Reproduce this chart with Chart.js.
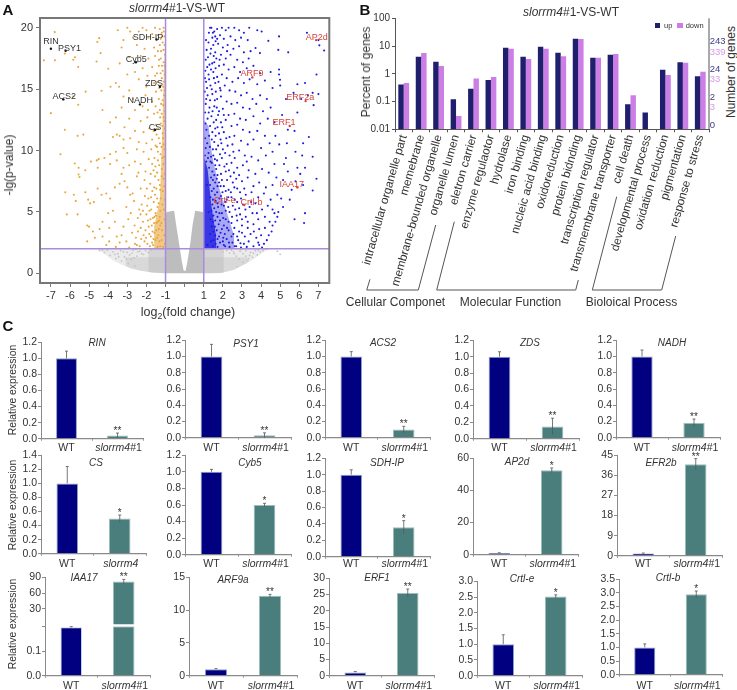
<!DOCTYPE html>
<html>
<head>
<meta charset="utf-8">
<title>slorrm4#1-VS-WT</title>
<script src="https://cdn.jsdelivr.net/npm/chart.js@4"></script>
<style>
  html, body { margin: 0; padding: 0; background: #fff; }
  #page { position: relative; width: 737px; height: 690px; overflow: hidden; font-family: "Liberation Sans", Arial, sans-serif; color: #333; }
  #page canvas { position: absolute; }
  .txt { position: absolute; white-space: nowrap; line-height: 1; transform: translate(-50%, -50%); }
  sub { font-size: 0.7em; line-height: 0; }
</style>
</head>
<body>
<div id="page"></div>
<script>
// ---------- panel A, volcano plot ----------
const volcanoTicksX = [-7, -6, -5, -4, -3, -2, -1, 0, 1, 2, 3, 4, 5, 6, 7];
const volcanoTicksY = [0, 5, 10, 15, 20];

const downPoints = [
  [-6.8,19.65],[-7.37,17.35],[-6.79,17.35],[-5.83,17.4],[-5.57,16.8],[-6.27,17.9],[-5.74,17.6],[-4.47,19.16],[-4.57,18.85],[-4.4,17.94],
  [-4.61,17.26],[-4,16.67],[-3.6,15.5],[-3.88,15.2],[-3.43,15.2],[-4.35,14.87],[-5.18,14.8],[-5.83,14.4],[-5.57,13.73],[-7,13.05],
  [-6.27,11.7],[-5.6,11.2],[-5.3,11.3],[-4.3,13.3],[-3.9,12.3],[-3.5,19.8],[-3,20],[-2.85,19.7],[-2.7,19.2],[-3.2,19],[-2.4,19.7],
  [-2.2,20],[-2,19.8],[-1.9,19.2],[-1.7,19.5],[-1.55,20],[-1.4,19.4],[-1.3,19.9],[-1.2,19.6],[-1.1,20],[-1.05,19.3],[-1.15,18.8],
  [-1.3,18.6],[-1.6,18.4],[-2.1,18.3],[-2.5,18.6],[-3.3,18.4],[-1.1,18.2],[-1.4,18.1],[-1.05,18.6],[-2.9,17.6],[-3.4,17.1],[-2.3,17.7],
  [-1.9,17.5],[-1.55,17.7],[-1.25,17.5],[-1.1,17.2],[-1.35,16.9],[-1.7,16.8],[-2.2,16.7],[-2.6,16.4],[-3,16.2],[-1.15,16.5],[-1.05,16.9],
  [-1.45,16.3],[-1.95,16.1],[-2.4,15.8],[-1.2,15.9],[-1.08,15.6],[-1.6,15.5],[-2,15.2],[-2.9,14.9],[-3.2,14.4],[-2.7,14.2],[-2.05,14.5],
  [-1.5,14.8],[-1.22,14.9],[-1.08,14.5],[-1.35,14.2],[-1.7,14],[-2.2,13.6],[-2.6,13.3],[-3.3,13.5],[-3.6,12.7],[-1.12,13.7],[-1.3,13.3],
  [-1.6,13],[-1.95,12.7],[-2.3,12.4],[-2.9,12.6],[-3.15,11.9],[-1.1,12.7],[-1.25,12.2],[-1.5,12.1],[-1.85,11.8],[-2.15,11.5],[-2.6,11.6],
  [-3.55,11.3],[-3.75,11.1],[-3.4,11.2],[-3.2,10.9],[-2.85,11],[-2.4,10.7],[-1.15,11.4],[-1.35,11],[-1.7,10.9],[-2,10.6],[-1.1,10.5],
  [-6.5,9.7],[-5.75,8.95],[-5.55,8.6],[-5.2,8.4],[-5.55,8.05],[-5.5,7.85],[-4.9,9.1],[-4.6,9.2],[-4.5,9.3],[-4.2,9.4],[-3.9,9.7],
  [-3.6,9.9],[-3.2,10.2],[-3,9.8],[-2.5,10.1],[-2.15,9.9],[-1.75,10.1],[-1.4,9.9],[-3.2,8.6],[-3.9,8.9],[-3.55,9.2],[-4.55,8.6],
  [-3.3,8.1],[-2.9,8.8],[-2.6,9.1],[-2.3,8.9],[-2.05,8.3],[-1.7,8.9],[-1.4,9.2],[-1.2,8.5],[-1.08,9.5],[-6.25,6.6],[-5.8,6.4],[-5.7,5.9],
  [-6.17,4.8],[-5.6,4.8],[-5.2,6.6],[-5.05,6],[-4.95,5.7],[-4.75,5.8],[-4.55,6.9],[-4.35,6.4],[-4.1,6.5],[-3.9,6.1],[-3.65,7],[-3.4,7.3],
  [-3.15,7.5],[-3,7],[-2.85,6.4],[-2.5,7.9],[-2.3,6.9],[-2.1,7.6],[-1.8,7.3],[-1.55,7.9],[-1.3,7.2],[-1.1,7.7],[-5.1,3.9],[-5,3.8],
  [-4.8,3.4],[-4.45,3.6],[-4.3,4.2],[-4.3,3],[-4,4.9],[-3.95,3.7],[-3.75,5.1],[-3.65,4.2],[-3.55,3],[-3.4,2.5],[-3.2,3.8],[-3.05,5.4],
  [-2.95,4.4],[-2.75,3.3],[-2.65,5.9],[-2.6,2.4],[-2.45,4.5],[-2.3,3.7],[-2.25,5.6],[-2.1,2.6],[-2,4.8],[-1.9,6.1],[-1.85,3.2],[-1.75,5.2],
  [-1.65,2.3],[-1.6,4.1],[-1.55,6.4],[-1.45,2.9],[-1.42,5.4],[-1.35,3.6],[-1.3,4.6],[-1.28,2.2],[-1.25,6.1],[-1.2,2.7],[-1.82,2.2],[-2.55,2.9],
  [-3.95,2.6],[-2.05,3.5],[-1.72,3.9],[-1.95,2.4],[-2.35,2.2],[-3.05,2.6],[-1.5,4.7],[-1.62,5.8],[-1.98,6.9],[-2.72,6.5],[-2.38,5.2],[-2.82,4.9],
  [-4.7,2.9],[-5.1,2.6],[-4.1,2.3],[-3.6,2.15],[-3.3,3.1],[-2.9,2.1],[-1.78,8.1],[-1.88,9.3],[-2.42,8.2],[-1.52,10.4],[-1.62,11.6],[-1.92,13.3],
  [-1.03,2.4],[-1.07,3.1],[-1.12,2.15],[-1.18,3.5],[-1.22,4.1],[-1.05,4.4],[-1.09,5.2],[-1.16,5.6],[-1.03,6],[-1.14,6.7],[-1.06,7.1],[-1.2,7.9],[-1.04,8.1],
  [-1.11,8.9],[-1.18,9.4],[-1.05,10.1],[-1.21,10.3],[-1.13,11],[-1.03,11.8],[-1.17,12],[-1.06,12.4],[-1.2,13],[-1.04,13.2],[-1.15,14.1],[-1.03,14.9],[-1.27,15.3],
  [-1.12,15.2],[-1.04,16.2],[-1.19,16.9],[-1.32,2.6],[-1.38,3.1],[-1.42,2.15],[-1.48,3.5],[-1.53,2.7],[-1.58,3.3],[-1.63,2.8],[-1.7,2.5],[-1.77,3],[-1.28,3.9],
  [-1.33,4.3],[-1.41,4.2],[-1.47,4.1],[-1.52,4.9],[-1.58,4.6],[-1.66,4.5],[-1.68,3.4],[-1.79,4.4],[-1.88,3.8],[-1.92,4.3],[-2.02,2.9],[-2.15,3.1],[-2.18,4.2],[-2.27,2.8],
  [-2.44,3.4],[-2.5,2.3],[-2.62,3.9],[-1.27,5.1],[-1.36,5.7],[-1.44,6.1],[-1.48,6.9],[-1.59,7],[-1.69,6.7],[-1.76,6.2],[-1.84,5.1],[-1.96,5.5],[-2.08,6.3],[-2.18,5.1],
  [-2.31,4.8],[-1.28,6.8],[-1.37,7.6],[-1.44,8.2],[-1.53,8.7],[-1.63,8.4],[-1.33,8.8],[-1.26,9.7],[-1.45,10.3],[-1.29,10.6],[-1.58,9.4],[-1.38,11.8],[-1.47,11.3],[-1.28,12.7],
  [-1.42,13.1],[-1.23,13.8],[-1.52,13.6],[-1.33,15.1],[-1.42,15.6],[-1.26,16.3],[-1.55,16.1],[-1.23,18.1],[-1.34,17.4],[-1.17,19.3],[-1.09,19.7],[-1.25,19.1],[-1.03,17.8]
];

const upPoints = [
  [7,19],[7.3,18.15],[7.05,18.57],[6.4,19.6],[4.94,19.3],[5.42,18],[4.9,18.2],[4.38,18.94],[4.03,19.7],[3.8,19.8],[3.38,20],[3.71,18.35],[3.94,17.94],
  [4.94,16.6],[4.94,16.2],[4.99,15.77],[4.5,16.4],[6.9,16.2],[6.7,14.7],[7,14.6],[6.45,14.5],[6.3,15.5],[5.9,15.4],[6.1,14.2],[5.7,14.7],[5,15.3],
  [4.6,15.1],[5.3,14.2],[5.9,13.1],[6.75,13.7],[5.1,12.9],[5.75,11.6],[6.5,11.1],[6.2,10.6],[5.4,11.7],[4.7,12.3],[4.75,11.2],[4.95,10.5],[5.35,10.6],
  [5.8,9.9],[5.3,9.4],[6.15,9.6],[6.7,9.5],[6.9,7.7],[6.7,6.75],[6.3,8.6],[5.9,8.6],[6.05,8.1],[6.2,7.2],[5.8,7.5],[5.2,8.9],[5.4,8.3],[5.15,7.6],
  [5.6,6.8],[5.05,6.1],[5.5,6],[5.15,5.4],[6.3,4.9],[6.25,4.1],[5.75,4.4],[4.9,5],[4.85,4.6],[4.75,4.2],[4.6,3.9],[4.55,3.4],[4.4,3.1],[4.3,2.7],
  [4.15,2.4],[4.05,2.1],[3.9,2.3],[4.7,4.9],[1.4,20],[1.55,19.7],[1.7,19.9],[1.95,20],[2.15,19.8],[2.3,20],[2.6,20],[2.85,19.8],[3.1,19.6],[1.45,19.2],
  [1.6,19.3],[1.85,19.4],[2.05,19.1],[2.4,19.3],[2.65,19],[2.95,19.2],[3.3,19],[1.25,18.8],[1.5,18.6],[1.75,18.7],[2,18.4],[2.25,18.6],[2.55,18.3],[2.85,18.5],
  [3.1,18],[3.45,18.1],[1.15,18.2],[1.35,17.9],[1.6,18],[1.9,17.8],[2.15,17.5],[2.4,17.8],[2.75,17.4],[3.05,17.2],[3.35,17.5],[1.1,17.4],[1.3,17],[1.55,17.2],
  [1.8,16.9],[2.05,17],[2.3,16.6],[2.6,16.8],[2.9,16.4],[3.25,16.7],[3.6,16.9],[3.95,16.3],[1.08,16.5],[1.25,16.2],[1.5,16.4],[1.7,16],[1.95,16.2],[2.2,15.9],
  [2.5,15.6],[2.8,15.9],[3.1,15.5],[3.4,15.8],[3.8,15.4],[4.2,15.7],[1.12,15.6],[1.35,15.3],[1.6,15.5],[1.85,15.1],[2.1,15.3],[2.35,14.9],[2.65,14.8],[2.95,14.5],
  [3.25,14.7],[3.55,14.2],[3.95,14.5],[4.3,14.2],[1.05,14.8],[1.2,14.5],[1.45,14.6],[1.7,14.2],[1.9,14.4],[2.2,14],[2.45,13.8],[2.75,13.9],[3.05,13.5],[3.4,13.4],
  [3.75,13.8],[4.1,13.2],[4.5,13.5],[1.1,13.8],[1.3,13.5],[1.55,13.6],[1.8,13.2],[2,13.4],[2.3,12.9],[2.6,13],[2.9,12.6],[3.2,12.5],[3.6,12.8],[3.95,12.2],
  [4.35,12.6],[1.4,12.8],[1.65,12.5],[1.9,12.3],[2.15,12.5],[2.45,12],[2.75,12.1],[3.05,11.7],[3.4,11.5],[3.8,11.6],[4.2,11.2],[1.6,11.8],[1.8,11.4],[2.05,11.5],
  [2.35,11.1],[2.6,11.2],[2.95,10.8],[3.3,10.5],[3.6,10.9],[4,10.2],[4.45,10.6],[1.55,10.7],[1.75,10.4],[2,10.1],[2.25,10.4],[2.55,9.9],[2.85,10],[3.15,9.6],
  [3.5,9.5],[3.85,9.2],[4.25,9.6],[4.6,9.9],[4.7,8.9],[1.5,9.6],[1.7,9.2],[1.95,9.4],[2.2,8.9],[2.45,9],[2.75,8.6],[3.05,8.8],[3.35,8.4],[3.7,8.1],[4.05,8.5],
  [4.4,8.2],[4.8,7.8],[1.65,8.5],[1.9,8.1],[2.15,8.3],[2.4,7.9],[2.7,7.7],[3,7.5],[3.3,7.8],[3.6,7.1],[3.9,7.4],[4.25,7],[4.6,7.2],[1.8,7.4],[2.05,7.1],[2.3,6.8],
  [2.6,7],[2.9,6.6],[3.2,6.4],[3.5,6.6],[3.85,6.2],[4.15,6.5],[4.5,6],[4.85,6.4],[1.9,6.3],[2.2,6],[2.45,6.2],[2.75,5.8],[3.05,5.6],[3.4,5.4],[3.7,5.7],[4.05,5.2],
  [4.35,5.5],[4.6,5.2],[2.05,5.5],[2.35,5],[2.65,5.2],[2.9,4.8],[3.2,4.6],[3.55,4.9],[3.85,4.4],[4.2,4.6],[4.45,4.2],[2.15,4.4],[2.45,4.1],[2.75,4.3],[3,3.9],[3.3,3.7],
  [3.6,4],[3.9,3.6],[4.2,3.7],[2.3,3.5],[2.55,3.2],[2.85,3.4],[3.15,3],[3.45,3.2],[3.75,2.9],[4,3.1],[2.2,2.8],[2.5,2.5],[2.8,2.7],[3.1,2.4],[3.35,2.6],[3.6,2.2],
  [3.85,2.5],[2.05,2.3],[2.35,2.15],[2.7,2.2],[2.95,2.1],[3.25,2.15],[1.8,3],[1.95,3.6],[2.1,3.2],[1.85,4.3],[1.95,4.9],[1.75,5.4],[1.7,6.6],[1.6,7.4],[1.45,8.3],[2,2.6],
  [1.27,19.6],[1.33,20],[1.48,19.6],[1.62,18.9],[1.12,19],[1.38,18.3],[1.7,19.1],[1.52,17.7],[1.22,17.6],[1.44,17.1],[1.66,17.5],[1.18,16.8],[1.38,16.6],[1.62,16.7],
  [1.83,17.4],[2.22,18.1],[1.06,15.9],[1.28,15.8],[1.53,15.9],[1.77,15.6],[1.42,15],[1.17,15.1],[1.63,14.8],[1.88,14.9],[1.33,14.1],[1.58,14.1],[1.13,14.2],[1.26,13.1],[1.46,13.2],
  [1.68,13.5],[1.07,13.1],[1.75,12.9],[1.2,12.6],[1.52,12.3],[2.05,12.9],[1.09,12.2],[1.33,12],[1.72,11.9],[1.97,11.9],[1.45,11.5],[1.14,11.7],[1.62,11.2],[1.28,11.2],[1.88,10.9],
  [2.18,11],[1.07,11],[1.42,10.9],[1.18,10.6],[1.65,10.1],[1.32,10.3],[1.92,10.6],[2.12,9.8],[1.1,10.2],[1.48,10.1],[1.25,9.8],[1.85,9.7],[1.58,9.3],[1.38,9.5],[2.35,9.6],
  [2.08,8.7],[2.62,9.4],[1.82,8.8],[1.6,8.8],[1.42,9],[2.32,8.4],[1.72,8],[1.95,7.6],[1.55,8],[2.58,8.2],[2.22,7.6],[2.85,8],[1.68,7.7],[1.48,7.6],[2.52,7.4],[1.88,7.1],
  [2.15,6.7],[2.42,6.6],[1.52,6.9],[2.75,6.9],[1.72,7.1],[1.58,6.4],[1.98,6.6],[2.28,6.2],[2.62,6],[1.82,6.1],[1.62,5.9],[2.12,5.8],[1.48,6],[2.95,6.1],[1.72,5.7],[2.52,5.5],
  [1.93,5.6],[1.55,5.3],[2.28,5.4],[2.85,5.3],[1.65,5],[2.15,5.1],[1.82,4.9],[3.18,5.2],[1.5,4.7],[2.48,4.6],[1.72,4.6],[2.02,4.5],[1.6,4.3],[2.72,4.7],[2.3,4.2],[1.48,4.2],
  [1.78,4],[3,4.4],[2.05,3.9],[1.58,3.8],[2.6,3.7],[1.68,3.5],[2.22,3.7],[1.5,3.4],[1.88,3.3],[2.45,3],[1.6,3.1],[2.75,3],[2.02,2.9],[1.72,2.8],[1.5,2.7],[3,3.3],[2.32,2.5],
  [1.62,2.4],[1.85,2.5],[2.12,2.2],[1.48,2.2],[2.62,2.2],[1.72,2.15],[2.92,2.45],[1.38,2.6],[1.33,3.2],[1.42,3.8],[1.36,4.4],[1.4,5.1],[1.45,5.6],[1.35,6.2],[1.42,6.7],[1.33,7.2],
  [1.38,7.8],[1.28,8.6],[1.35,9.1],[1.22,9.4],[1.13,9.1],[1.06,9.6],[1.19,2.3],[1.25,5],[1.16,7.2],[3.62,3.4],[3.3,4.2],[3.78,4.9],[3.48,5.8],[3.12,6.9],[2.5,10.5],[3.25,9.1]
];

const grayPoints = [
  [-4.45,1.85],[-4.2,1.7],[-4.05,1.9],[-3.9,1.45],[-3.75,1.75],[-3.6,1.2],[-3.5,1.6],[-3.35,1.85],[-3.3,1],[-3.15,1.35],[-3,1.7],[-2.95,0.8],[-2.8,1.15],
  [-2.7,1.9],[-2.6,0.6],[-2.5,1.4],[3.05,0.9],[3.2,1.4],[3.3,1.05],[3.45,1.7],[3.55,1.3],[3.7,1.85],[3.8,1.5],[3.95,1.75],[4.1,1.85],[4.3,1.95],[4.85,1.8],[5,1.55],
  [2.9,1.8],[2.75,0.55],[2.6,1.6],[-2.35,1.8],[-2.15,1.55],[2.45,1.9],[-3.05,1.15],[-2.88,1.5],[-2.65,1.25],[-2.45,1.75],[-2.25,1.6],[-2.05,1.85],[-1.9,1.7],[-3.45,1.35],
  [-3.65,1.55],[-4.3,1.9],[-3.2,1.75],[-2.75,1.65],[-2.55,1.95],[-1.75,1.9],[2.2,1.85],[2.35,1.65],[2.7,1.4],[2.85,1.15],[3.05,1.6],[3.2,1.85],[3.4,1.45],[3.6,1.65],
  [2,1.75],[1.85,1.95],[2.55,1.75],[2.95,1.95],[3.85,1.9],[3.35,1.2]
];

// outlines of the solid grey and the densest parts of the clouds
const wingX = [-1, -0.95, -0.55, -0.45, -0.3, -0.15, -0.05, 0.05, 0.15, 0.3, 0.42, 0.55, 0.95, 1];
const wingY = [4.6, 5, 5.1, 4, 2.5, 1, 0.2, 0.2, 1, 2.5, 4, 5.1, 5, 4.6];
const lowLeftX = [-4.6, -4.2, -3.8, -3.3, -2.8, -2.3, -1.7, -1];
const lowLeftY = [2, 1.6, 1.1, 0.7, 0.4, 0.2, 0.06, 0];
const lowRightX = [1, 1.9, 2.55, 3.4, 4.1, 4.4];
const lowRightY = [0, 0.02, 0.27, 0.95, 1.7, 2];
const midLeftX = [-3.1, -2.8, -2.3, -1.7, -1];
const midLeftY = [0.62, 0.4, 0.2, 0.06, 0];
const midRightX = [1, 1.9, 2.55, 3.1, 3.3];
const midRightY = [0, 0.02, 0.27, 0.7, 0.85];
const coreLeftX = [-1.9, -1.7, -1];
const coreLeftY = [0.12, 0.06, 0];
const coreRightX = [1, 1.7, 2.05];
const coreRightY = [0, 0.02, 0.06];
const denseDownX = [-1.6, -1.3, -1.18, -1.08, -1];
const denseDownY = [3.8, 6, 11, 17, 19];
const denseUpX = [1, 1.25, 1.45, 1.8, 2.2, 2.6];
const denseUpY = [12.5, 12, 9.5, 7, 5, 3];
const solidUpX = [1, 1.2, 1.4, 1.65];
const solidUpY = [9.5, 8.5, 5.5, 3];

const downGenes = ['RIN', 'PSY1', 'ACS2', 'SDH-IP', 'Cyb5', 'ZDS', 'NADH', 'CS'];
const downGeneX = [-7, -6.23, -6.35, -1.47, -2.55, -1.29, -2.34, -1.55];
const downGeneY = [18.3, 18.13, 14.17, 19.05, 17.2, 15.2, 13.76, 11.67];
const downLabelX = [-7, -6.03, -6.3, -1.92, -2.53, -1.6, -2.32, -1.55];
const downLabelY = [18.85, 18.3, 14.4, 19.25, 17.45, 15.45, 14.05, 11.9];
const upGenes = ['AP2d', 'ARF9', 'ERF2a', 'ERF1', 'IAA17', 'Crtl-e', 'Crtl-b'];
const upGeneX = [6.88, 3.54, 6.33, 5.5, 5.9, 1.6, 3.12];
const upGeneY = [19, 15.96, 14.03, 12, 7, 5.8, 5.56];
const upLabelX = [6.91, 3.52, 6.05, 5.2, 5.6, 2.1, 3.5];
const upLabelY = [19.25, 16.3, 14.3, 12.25, 7.25, 5.95, 5.8];

// ---------- panel B, GO classification ----------
const goTerms = ['intracellular organelle part', 'memebrane', 'membrane-bounded organelle', 'organelle lumen', 'eletron carrier',
  'enzyme regulaotor', 'hydrolase', 'iron binding', 'nucleic acid binding', 'oxidoreduction', 'protein bidnding', 'transcription regulator',
  'transmembrane transporter', 'cell death', 'developmental process', 'oxidation reduction', 'pigmentation', 'response to stress'];
const goUp = [0.41, 4.1, 2.7, 0.12, 0.29, 0.6, 8.7, 4.1, 9.4, 5.7, 18.4, 3.8, 4.9, 0.08, 0.04, 1.4, 2.6, 0.82];
const goDown = [0.47, 5.6, 1.9, 0.03, 0.68, 0.76, 8, 3.4, 8, 4.3, 18, 3.8, 5.2, 0.17, null, 0.9, 2.5, 1.18];
const goTicksY = [0.01, 0.1, 1, 10, 100];
const geneCountLabels = ['243', '339', '24', '33', '2', '3', '0'];
const geneCountTop = [41, 52, 69, 79, 97, 107, 125];
const geneCountColors = ['#3d3d86', '#d79be8', '#3d3d86', '#d79be8', '#3d3d86', '#d79be8', '#3d3d86'];

// ---------- panel C, qPCR ----------
const qGenes = ['RIN', 'PSY1', 'ACS2', 'ZDS', 'NADH', 'CS', 'Cyb5', 'SDH-IP', 'AP2d', 'EFR2b', 'IAA17', 'ARF9a', 'ERF1', 'Crtl-e', 'Crtl-b'];
const wtMean = [1, 1, 1, 1, 1, 1, 1, 1, 1, 1, 0.2, 1, 1, 1, 1];
const wtErr = [0.09, 0.15, 0.06, 0.06, 0.08, 0.24, 0.03, 0.06, 0.2, 0.2, 0.003, 0.08, 0.3, 0.3, 0.13];
const mutMean = [0.04, 0.03, 0.1, 0.15, 0.18, 0.5, 0.6, 0.36, 52.5, 41, 82, 12.2, 25.5, 2.52, 2.95];
const mutErr = [0.03, 0.03, 0.04, 0.1, 0.05, 0.05, 0.02, 0.08, 1.5, 2.5, 4, 0.2, 1.2, 0.05, 0.12];
const mutStars = ['**', '**', '**', '**', '**', '*', '*', '*', '*', '**', '**', '**', '**', '*', '*'];
const mutLabels = ['#1', '#1', '#1', '#1', '#1', '', '#1', '#1', '#1', '#1', '#1', '#1', '#1', '#1', '#1'];
const qTicks = [
  [0, 0.2, 0.4, 0.6, 0.8, 1, 1.2], [0, 0.2, 0.4, 0.6, 0.8, 1, 1.2], [0, 0.2, 0.4, 0.6, 0.8, 1, 1.2], [0, 0.2, 0.4, 0.6, 0.8, 1, 1.2], [0, 0.2, 0.4, 0.6, 0.8, 1, 1.2],
  [0, 0.2, 0.4, 0.6, 0.8, 1, 1.2, 1.4], [0, 0.2, 0.4, 0.6, 0.8, 1, 1.2], [0, 0.2, 0.4, 0.6, 0.8, 1, 1.2], [0, 20, 40, 60], [0, 9, 18, 27, 36, 45],
  [], [0, 5, 10, 15], [0, 5, 10, 15, 20, 25, 30], [0, 0.5, 1, 1.5, 2, 2.5, 3], [0, 0.5, 1, 1.5, 2, 2.5, 3, 3.5]
];
const iaaLowTicks = [0, 0.1, 0.205];
const iaaHighTicks = [30, 60, 90];

// layout of the small charts: left, right, top, bottom of the plot area
const qBoxes = [
  [41, 143, 341, 439.7], [185, 291, 339, 439.3], [325, 430, 339, 439], [473, 579, 339.3, 440], [616, 720, 339, 439],
  [41, 146, 454, 555], [185, 291, 454.3, 556], [325, 430, 456.7, 557.3], [473, 578, 456.7, 556], [617, 722, 454.3, 557.3],
  [45, 150, 576, 676.7], [189, 297, 576, 676.7], [329, 434, 577, 676.7], [477, 582, 580, 676.7], [619, 722, 577.7, 675.7]
];
const qTitleX = [97, 246, 383, 530, 672, 96, 250, 387, 517, 661, 84, 233, 377, 522, 668];
const qTitleY = [343, 344, 343, 343, 343, 463, 463, 463, 462, 463, 578, 580, 578, 579, 578];
const qLabelY = [447, 447, 447, 447, 447, 563, 563, 563, 563, 563, 685, 685, 685, 685, 685];

Chart.defaults.font.family = '"Liberation Sans", Arial, sans-serif';
Chart.defaults.color = '#333';
Chart.defaults.animation = false;
Chart.defaults.responsive = false;
Chart.defaults.plugins.legend.display = false;
Chart.defaults.plugins.tooltip.enabled = false;

const page = document.getElementById('page');

function addText(html, x, y, size, extra) {
  const d = document.createElement('div');
  d.className = 'txt';
  d.innerHTML = html;
  d.style.left = x + 'px';
  d.style.top = y + 'px';
  d.style.fontSize = size + 'px';
  if (extra) Object.assign(d.style, extra);
  page.appendChild(d);
  return d;
}

function addCanvas(left, top, width, height) {
  const c = document.createElement('canvas');
  c.width = width;
  c.height = height;
  c.style.left = left + 'px';
  c.style.top = top + 'px';
  page.appendChild(c);
  return c;
}

function toXY(xs, ys) {
  return xs.map((x, i) => ({ x: x, y: ys[i] }));
}

function cloud(data, color, radius, order) {
  return { data: data, backgroundColor: color, pointRadius: radius, borderWidth: 0, pointBorderWidth: 0, order: order };
}

function pairs(list) {
  return list.map(p => ({ x: p[0], y: p[1] }));
}

function area(xs, ys, color, target, order) {
  return { data: toXY(xs, ys), showLine: true, pointRadius: 0, borderWidth: 0, tension: 0, backgroundColor: color, fill: target, order: order };
}

function rule(xs, ys) {
  return { data: toXY(xs, ys), showLine: true, pointRadius: 0, borderColor: '#a98be0', borderWidth: 1.5, tension: 0, order: 1 };
}

// Frame around the volcano plot, gene names next to the marked points.
const volcanoExtras = {
  id: 'volcanoExtras',
  afterDraw(chart) {
    const ctx = chart.ctx, a = chart.chartArea, sx = chart.scales.x, sy = chart.scales.y;
    ctx.save();
    ctx.strokeStyle = '#777';
    ctx.lineWidth = 2;
    ctx.strokeRect(a.left, a.top, a.right - a.left, a.bottom - a.top);
    ctx.font = '9px "Liberation Sans", Arial, sans-serif';
    ctx.textAlign = 'center';
    ctx.textBaseline = 'middle';
    ctx.fillStyle = '#333';
    downGenes.forEach((g, i) => ctx.fillText(g, sx.getPixelForValue(downLabelX[i]), sy.getPixelForValue(downLabelY[i])));
    ctx.fillStyle = '#d8413c';
    upGenes.forEach((g, i) => ctx.fillText(g, sx.getPixelForValue(upLabelX[i]), sy.getPixelForValue(upLabelY[i])));
    ctx.restore();
  }
};

new Chart(addCanvas(0, 0, 340, 305), {
  type: 'scatter',
  data: {
    datasets: [
      cloud(toXY(downGeneX, downGeneY), '#111', 1.2, 0),
      cloud(toXY(upGeneX, upGeneY), '#d8413c', 1.2, 0),
      rule([-1, -1], [-0.79, 20.8]),
      rule([1, 1], [-0.79, 20.8]),
      rule([-7.57, 7.57], [2, 2]),
      cloud(pairs(upPoints), '#1c1ce0', 1.05, 2),
      cloud(pairs(downPoints), '#e8a63c', 1.05, 2),
      area(solidUpX, solidUpY, 'rgba(28,28,224,0.8)', { value: 2 }, 3),
      area(denseUpX, denseUpY, 'rgba(28,28,224,0.38)', { value: 2 }, 4),
      area(denseDownX, denseDownY, 'rgba(232,166,60,0.6)', { value: 2 }, 3),
      cloud(pairs(grayPoints), '#c4c4c4', 0.9, 5),
      area(wingX, wingY, '#bdbdbd', 'origin', 6),
      area(coreLeftX, coreLeftY, 'rgba(190,190,190,0.5)', { value: 2 }, 7),
      area(coreRightX, coreRightY, 'rgba(190,190,190,0.5)', { value: 2 }, 7),
      area(midLeftX, midLeftY, 'rgba(190,190,190,0.4)', { value: 1.3 }, 8),
      area(midRightX, midRightY, 'rgba(190,190,190,0.4)', { value: 1.3 }, 8),
      area(lowLeftX, lowLeftY, 'rgba(190,190,190,0.3)', { value: 2 }, 9),
      area(lowRightX, lowRightY, 'rgba(190,190,190,0.3)', { value: 2 }, 9)
    ]
  },
  options: {
    layout: { padding: { top: 18, right: 10.7, left: 0, bottom: 0 } },
    scales: {
      x: {
        type: 'linear', min: -7.57, max: 7.57,
        afterBuildTicks: s => { s.ticks = volcanoTicksX.map(v => ({ value: v })); },
        afterFit: s => { s.height = 22; },
        grid: { drawOnChartArea: false, tickLength: 4, color: '#777' },
        border: { color: '#777' },
        ticks: { autoSkip: false, maxRotation: 0, padding: 2, font: { size: 11 }, callback: v => (v === 0 ? '' : String(v)) }
      },
      y: {
        min: -0.79, max: 20.8,
        afterBuildTicks: s => { s.ticks = volcanoTicksY.map(v => ({ value: v })); },
        afterFit: s => { s.width = 40; },
        grid: { drawOnChartArea: false, tickLength: 4, color: '#777' },
        border: { color: '#777' },
        ticks: { padding: 3, font: { size: 11 } }
      }
    }
  },
  plugins: [volcanoExtras]
});

addText('<b>A</b>', 8, 9, 15, { color: '#111' });
addText('<i>slorrm4</i>#1-VS-WT', 177, 8, 12);
addText('-lg(p-value)', 9, 165, 12, { transform: 'translate(-50%,-50%) rotate(-90deg)' });
addText('log<sub>2</sub>(fold change)', 188, 312, 12.5);

// ---------- panel B ----------
const goFrame = {
  id: 'goFrame',
  afterDraw(chart) {
    const ctx = chart.ctx, a = chart.chartArea;
    ctx.save();
    ctx.strokeStyle = '#555';
    ctx.beginPath();
    ctx.moveTo(a.right, a.top);
    ctx.lineTo(a.right, a.bottom);
    ctx.stroke();
    ctx.restore();
  }
};

new Chart(addCanvas(350, 0, 370, 310), {
  type: 'bar',
  data: {
    labels: goTerms,
    datasets: [
      { label: 'up', data: goUp, backgroundColor: '#1f1f6e', categoryPercentage: 0.62, barPercentage: 1 },
      { label: 'down', data: goDown, backgroundColor: '#cc7ee6', categoryPercentage: 0.62, barPercentage: 1 }
    ]
  },
  options: {
    layout: { padding: { top: 18.3, right: 11, left: 0, bottom: 0 } },
    scales: {
      x: {
        afterFit: s => { s.height = 180.7; },
        grid: { drawOnChartArea: false, tickLength: 3, color: '#555' },
        border: { color: '#555' },
        ticks: { autoSkip: false, minRotation: 74, maxRotation: 74, padding: 1, font: { size: 11.7 } }
      },
      y: {
        type: 'logarithmic', min: 0.01, max: 100,
        afterBuildTicks: s => { s.ticks = goTicksY.map(v => ({ value: v })); },
        afterFit: s => { s.width = 45; },
        grid: { drawOnChartArea: false, tickLength: 3, color: '#555' },
        border: { color: '#555' },
        ticks: { padding: 2, font: { size: 10 }, callback: v => String(v) }
      }
    }
  },
  plugins: [goFrame]
});

addText('<b>B</b>', 365, 9, 15, { color: '#111' });
addText('<i>slorrm4</i>#1-VS-WT', 571, 12, 12);
addText('Percent of genes', 366, 72, 12, { transform: 'translate(-50%,-50%) rotate(-90deg)' });
addText('Number of genes', 731, 72, 12, { transform: 'translate(-50%,-50%) rotate(-90deg)' });
geneCountLabels.forEach((t, i) => {
  addText(t, 709.8, geneCountTop[i], 9.5, { transform: 'translate(0,-50%)', color: geneCountColors[i] });
});
addText('up', 664, 25.5, 7.5, { transform: 'translate(0,-50%)' });
addText('down', 685.7, 25.5, 7.5, { transform: 'translate(0,-50%)' });
[[655, '#1f1f6e'], [677.3, '#cc7ee6']].forEach(s => {
  const d = document.createElement('div');
  d.style.cssText = 'position:absolute;top:22.7px;width:5.3px;height:5.3px;left:' + s[0] + 'px;background:' + s[1];
  page.appendChild(d);
});
addText('Cellular Componet', 395.5, 302, 12);
addText('Molecular Function', 510.5, 302, 12);
addText('Bioloical Process', 631.5, 302, 12);

// brackets that tie the terms to their groups
const brackets = ['370,279.3 366.7,290 418.3,290 435.7,225', '454.3,221.7 436.7,290 575.7,290 578.3,280', '616.7,196.7 592.3,290 661.7,290 675.7,236'];
const svg = document.createElementNS('http://www.w3.org/2000/svg', 'svg');
svg.setAttribute('width', 737);
svg.setAttribute('height', 320);
svg.style.cssText = 'position:absolute;left:0;top:0';
brackets.forEach(b => {
  const p = document.createElementNS('http://www.w3.org/2000/svg', 'polyline');
  p.setAttribute('points', b);
  p.setAttribute('fill', 'none');
  p.setAttribute('stroke', '#555');
  svg.appendChild(p);
});
page.appendChild(svg);

// ---------- panel C ----------
const errorMarks = {
  id: 'errorMarks',
  afterDatasetsDraw(chart) {
    const ctx = chart.ctx;
    ctx.save();
    chart.data.datasets.forEach(ds => {
      if (!ds.err) return;
      const sy = chart.scales[ds.yAxisID || 'y'];
      ds.data.forEach((v, i) => {
        if (v === null || ds.err[i] === null) return;
        const x = chart.scales.x.getPixelForValue(i);
        const top = sy.getPixelForValue(v + ds.err[i]);
        const low = sy.getPixelForValue(Math.max(v - ds.err[i], sy.min));
        ctx.strokeStyle = '#555';
        ctx.lineWidth = 0.8;
        ctx.beginPath();
        // the WT bar is so dark that only the upper half of its whisker shows
        ctx.moveTo(x, ds.stars && ds.stars[i] ? low : sy.getPixelForValue(v));
        ctx.lineTo(x, top);
        ctx.moveTo(x - 1.5, top);
        ctx.lineTo(x + 1.5, top);
        ctx.stroke();
        if (ds.stars && ds.stars[i]) {
          ctx.fillStyle = '#333';
          ctx.font = '10px "Liberation Sans", Arial, sans-serif';
          ctx.textAlign = 'center';
          ctx.textBaseline = 'alphabetic';
          ctx.fillText(ds.stars[i], x, top + 1);
        }
      });
    });
    ctx.restore();
  }
};

const WT_COLOR = '#000080', MUT_COLOR = '#4a7e7d';
const axisGray = '#8a8a8a';

function qX(marginBottom) {
  return {
    afterFit: s => { s.height = marginBottom; },
    grid: { drawOnChartArea: false, tickLength: 2, color: axisGray },
    border: { color: axisGray, width: 1.2 },
    ticks: { display: false }
  };
}

function qY(tickValues, min, max, marginLeft, digits) {
  return {
    min: min, max: max,
    afterBuildTicks: s => { s.ticks = tickValues.map(v => ({ value: v })); },
    afterFit: s => { s.width = marginLeft; },
    grid: { drawOnChartArea: false, tickLength: 3, color: axisGray },
    border: { color: axisGray, width: 1 },
    ticks: {
      padding: 1, autoSkip: false, font: { size: 10.5 },
      callback: v => (v === 0.205 ? '' : v.toFixed(digits))
    }
  };
}

const barBase = { categoryPercentage: 1, barPercentage: 0.41, borderWidth: 1 };

qGenes.forEach((gene, i) => {
  const box = qBoxes[i];
  const left = box[0], right = box[1], top = box[2], bottom = box[3];
  const marginLeft = 30, marginTop = 6, marginRight = 6, marginBottom = 6;
  const canvas = addCanvas(left - marginLeft, top - marginTop,
    Math.round(right - left + marginLeft + marginRight), Math.round(bottom - top + marginTop + marginBottom));
  const categories = ['WT', 'slorrm4' + mutLabels[i]];
  let config;
  if (gene === 'IAA17') {
    // broken axis: two stacked scales, the mutant bar is cut at the break
    config = {
      datasets: [
        Object.assign({}, barBase, { data: [null, mutMean[i]], err: [null, mutErr[i]], stars: ['', mutStars[i]], yAxisID: 'yHigh', grouped: false, backgroundColor: MUT_COLOR, borderColor: '#9dbcbc' }),
        Object.assign({}, barBase, { data: [null, 0.205], yAxisID: 'yLow', grouped: false, backgroundColor: MUT_COLOR, borderColor: '#9dbcbc' }),
        Object.assign({}, barBase, { data: [wtMean[i], null], err: [wtErr[i], null], yAxisID: 'yLow', grouped: false, backgroundColor: WT_COLOR, borderColor: '#c4d2e6' })
      ],
      scales: {
        x: qX(marginBottom),
        yLow: Object.assign(qY(iaaLowTicks, 0, 0.205, marginLeft, 1), { stack: 'iaa', stackWeight: 50.7, position: 'left' }),
        yHigh: Object.assign(qY(iaaHighTicks, -3, 90, marginLeft, 0), { stack: 'iaa', stackWeight: 50, position: 'left' })
      }
    };
  } else {
    const ticks = qTicks[i];
    const maxTick = ticks[ticks.length - 1];
    config = {
      datasets: [Object.assign({}, barBase, {
        data: [wtMean[i], mutMean[i]],
        err: [wtErr[i], mutErr[i]],
        stars: ['', mutStars[i]],
        backgroundColor: [WT_COLOR, MUT_COLOR],
        borderColor: ['#8d9fc8', '#9dbcbc']
      })],
      scales: { x: qX(marginBottom), y: qY(ticks, 0, maxTick, marginLeft, maxTick <= 3.5 ? 1 : 0) }
    };
  }
  const chart = new Chart(canvas, {
    type: 'bar',
    data: { labels: categories, datasets: config.datasets },
    options: {
      layout: { padding: { top: marginTop, right: marginRight, left: 0, bottom: 0 } },
      scales: config.scales
    },
    plugins: [errorMarks]
  });
  const cx = j => left - marginLeft + chart.scales.x.getPixelForValue(j);
  addText(categories[0], cx(0), qLabelY[i], 10.5);
  addText('<i>slorrm4</i>' + mutLabels[i], cx(1) + 1, qLabelY[i], 10.5);
  addText(gene, qTitleX[i], qTitleY[i], 10, { fontStyle: 'italic' });
});

addText('<b>C</b>', 8, 325, 15, { color: '#111' });
[390, 505, 624].forEach(y => {
  addText('Relative expression', 13, y, 10.4, { transform: 'translate(-50%,-50%) rotate(-90deg)' });
});
</script>
</body>
</html>
